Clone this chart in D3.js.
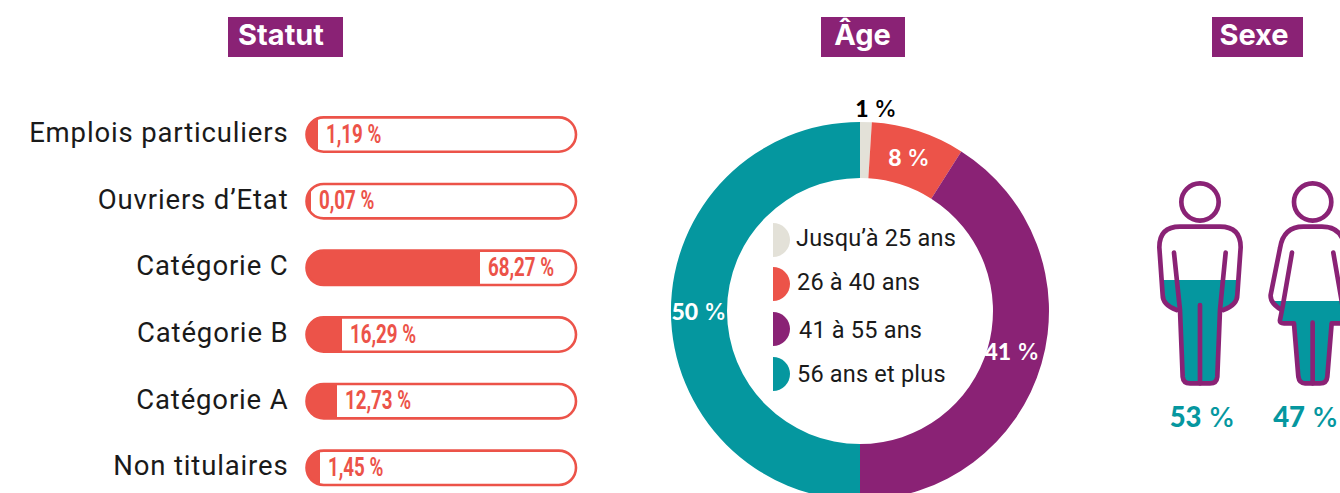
<!DOCTYPE html>
<html>
<head>
<meta charset="utf-8">
<script src="https://cdn.jsdelivr.net/npm/d3@7"></script>
<style>
html, body { margin: 0; padding: 0; background: #fff; overflow: hidden; }
svg { display: block; }
text { font-family: Roboto, sans-serif; }
</style>
</head>
<body>
<div id="svgcontainer"></div>
<script>
// chart data
var PANEL_TITLES = ["Statut", "Âge", "Sexe"];
var STATUS_NAMES = ["Emplois particuliers", "Ouvriers d’Etat", "Catégorie C", "Catégorie B", "Catégorie A", "Non titulaires"];
var STATUS_VALUES = [1.19, 0.07, 68.27, 16.29, 12.73, 1.45];
var AGE_NAMES = ["Jusqu’à 25 ans", "26 à 40 ans", "41 à 55 ans", "56 ans et plus"];
var AGE_VALUES = [1, 8, 41, 50];
var SEX_NAMES = ["Hommes", "Femmes"];
var SEX_VALUES = [53, 47];

var CORAL = "#ec5349", PURPLE = "#8a2275", TEAL = "#05979f", BEIGE = "#e3e1d8";

var svg = d3.select("#svgcontainer").append("svg")
    .attr("width", 1340)
    .attr("height", 493);

// number in heavy, percent sign lighter
function addPercent(sel, v, size) {
    sel.attr("text-anchor", "middle").style("font-size", size + "px");
    sel.append("tspan").style("font-family", "Lato, sans-serif").style("font-weight", 900).text(v + " ");
    sel.append("tspan").style("font-family", "Inter, sans-serif").style("font-weight", 500).text("%");
}

// purple title boxes
var titleBoxes = [[228, 343], [821, 905], [1212, 1303]];
var titleX = [281, 862.5, 1254];
PANEL_TITLES.forEach(function(t, i) {
    var b = titleBoxes[i];
    svg.append("rect").attr("x", b[0]).attr("y", 17).attr("width", b[1] - b[0]).attr("height", 40).attr("fill", PURPLE);
    svg.append("text").attr("x", titleX[i]).attr("y", 45)
        .attr("text-anchor", "middle").attr("fill", "#fff")
        .style("font-family", "Inter, sans-serif").style("font-weight", 700).style("font-size", "29px")
        .text(t);
});

// status bars: the fills in the original are not strictly proportional, so the scale has stops
var barX = d3.scaleLinear().domain([0.07, 1.19, 1.45, 12.73, 16.29, 68.27]).range([311, 318, 320, 337, 342, 480]);
var barY = d3.scaleBand().domain(STATUS_NAMES).range([101.2, 501.2]).paddingInner(0);
var trackLeft = 306.5, trackRight = 576, trackH = 34.4;

STATUS_NAMES.forEach(function(name, i) {
    var cy = barY(name) + barY.bandwidth() / 2;
    var y = cy - trackH / 2;
    var clipId = "track" + i;
    svg.append("clipPath").attr("id", clipId).append("rect")
        .attr("x", trackLeft).attr("y", y).attr("width", trackRight - trackLeft).attr("height", trackH).attr("rx", trackH / 2);
    svg.append("rect")
        .attr("x", trackLeft).attr("y", y)
        .attr("width", barX(STATUS_VALUES[i]) - trackLeft).attr("height", trackH)
        .attr("fill", CORAL).attr("clip-path", "url(#" + clipId + ")");
    svg.append("rect")
        .attr("x", trackLeft).attr("y", y).attr("width", trackRight - trackLeft).attr("height", trackH).attr("rx", trackH / 2)
        .attr("fill", "none").attr("stroke", CORAL).attr("stroke-width", 2.6);
    svg.append("text").attr("x", 288.5).attr("y", cy + 7.5)
        .attr("text-anchor", "end").attr("fill", "#1a1a1a")
        .style("font-size", "27.5px").style("letter-spacing", "0.85px")
        .text(name);
    // no condensed face installed, so squeeze the bold one
    svg.append("text")
        .attr("transform", "translate(" + (barX(STATUS_VALUES[i]) + 8) + "," + (cy + 8) + ") scale(0.75,1)")
        .attr("fill", CORAL)
        .style("font-weight", 700).style("font-size", "25px")
        .text(String(STATUS_VALUES[i]).replace(".", ",") + " %");
});

// age donut
var donutCx = 860, donutCy = 311;
var ageColor = d3.scaleOrdinal().domain(AGE_NAMES).range([BEIGE, CORAL, PURPLE, TEAL]);
var pie = d3.pie().sort(null);
var arc = d3.arc().innerRadius(133).outerRadius(189);
var donut = svg.append("g").attr("transform", "translate(" + donutCx + "," + donutCy + ")");
donut.selectAll("path").data(pie(AGE_VALUES)).enter().append("path")
    .attr("d", arc)
    .attr("fill", function(d, i) { return ageColor(AGE_NAMES[i]); });

var ageLabelPos = [[876, 117], [909, 166], [1012, 360], [699, 320]];
var ageLabelFill = ["#000", "#fff", "#fff", "#fff"];
AGE_VALUES.forEach(function(v, i) {
    var t = svg.append("text").attr("x", ageLabelPos[i][0]).attr("y", ageLabelPos[i][1])
        .attr("fill", ageLabelFill[i]);
    addPercent(t, v, 23);
});

// legend with half discs
var legendY = [240, 284, 329, 374];
var legendTextX = [796, 797, 799, 797];
var legendTextY = [245.5, 290, 337.5, 382];
var halfDisc = d3.arc().innerRadius(0).outerRadius(17).startAngle(0).endAngle(Math.PI);
AGE_NAMES.forEach(function(name, i) {
    svg.append("path").attr("d", halfDisc)
        .attr("transform", "translate(773," + legendY[i] + ")")
        .attr("fill", ageColor(name));
    svg.append("text").attr("x", legendTextX[i]).attr("y", legendTextY[i])
        .attr("fill", "#1a1a1a")
        .style("font-size", "23.5px").style("letter-spacing", "0.2px")
        .text(name);
});

// sex pictograms, drawn in a 3x grid then scaled down
var levelY = d3.scaleLinear().domain([47, 53]).range([393, 330]);
var figures = [
    {
        head: 180,
        fillShape: "M58 232 Q58 170 120 170 L240 170 Q302 170 302 232 L292 375 Q292 405 250 420 L240 420 L232 620 Q230 640 210 640 L150 640 Q130 640 128 620 L120 420 L110 420 Q68 405 68 375 Z",
        lines: ["M110 420 Q68 405 68 375 L58 232 Q58 170 120 170 L240 170 Q302 170 302 232 L292 375 Q292 405 250 420",
                "M102 248 L120 420 L128 620 Q130 640 150 640 L210 640 Q230 640 232 620 L240 420 L257 248",
                "M180 405 V640"]
    },
    {
        head: 518,
        fillShape: "M420 235 Q430 170 490 170 L546 170 Q606 170 616 235 L644 375 Q646 400 611 420 L620 450 Q622 460 604 460 L575 460 L562 620 Q560 640 540 640 L495 640 Q478 640 475 620 L462 460 L432 460 Q416 460 420 445 L425 420 Q390 400 392 375 Z",
        lines: ["M425 420 Q390 400 392 375 L420 235 Q430 170 490 170 L546 170 Q606 170 616 235 L644 375 Q646 400 611 420",
                "M456 248 L428 410 L420 450 Q418 460 432 460 L462 460 L475 620 Q478 640 495 640 L540 640 Q560 640 562 620 L575 460 L604 460 Q620 460 616 450 L608 410 L580 248",
                "M518 458 V640"]
    }
];
var sexG = svg.append("g").attr("transform", "translate(1140,170) scale(0.3333)");
figures.forEach(function(f, i) {
    var clipId = "level" + i;
    sexG.append("clipPath").attr("id", clipId).append("rect")
        .attr("x", 0).attr("y", levelY(SEX_VALUES[i])).attr("width", 800).attr("height", 400);
    sexG.append("path").attr("d", f.fillShape).attr("fill", TEAL).attr("clip-path", "url(#" + clipId + ")");
    sexG.append("circle").attr("cx", f.head).attr("cy", 96).attr("r", 56)
        .attr("fill", "none").attr("stroke", PURPLE).attr("stroke-width", 14);
    f.lines.forEach(function(l) {
        sexG.append("path").attr("d", l).attr("fill", "none").attr("stroke", PURPLE)
            .attr("stroke-width", 14).attr("stroke-linecap", "round").attr("stroke-linejoin", "round");
    });
});

var sexLabelX = [1202.5, 1306];
SEX_VALUES.forEach(function(v, i) {
    var t = svg.append("text").attr("x", sexLabelX[i]).attr("y", 427).attr("fill", TEAL);
    addPercent(t, v, 27.5);
});
</script>
</body>
</html>
